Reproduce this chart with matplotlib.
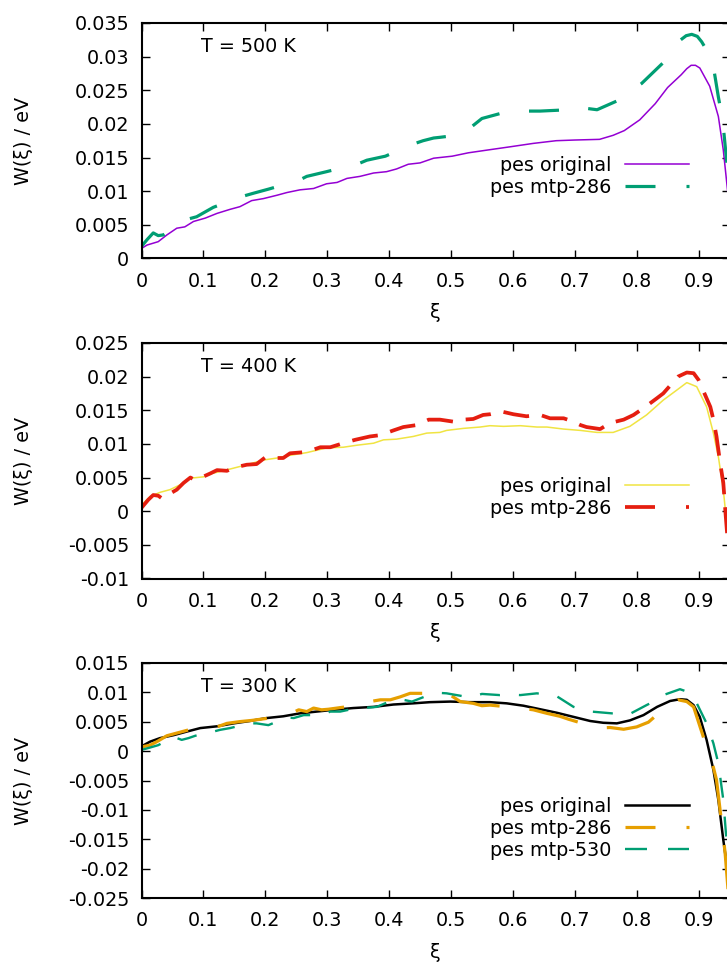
import matplotlib
matplotlib.use("Agg")
import matplotlib.pyplot as plt
from matplotlib.lines import Line2D
from matplotlib.ticker import MultipleLocator, FuncFormatter

plt.rcParams["font.family"] = ["DejaVu Sans"]
plt.rcParams["font.size"] = 13.8
plt.rcParams["lines.scale_dashes"] = False

# ---- T = 500 K ----
xi_500_orig = [0.0, 0.009, 0.027, 0.041, 0.057, 0.070, 0.084, 0.103, 0.122, 0.143, 0.159, 0.178,
               0.197, 0.219, 0.235, 0.256, 0.278, 0.299, 0.316, 0.332, 0.353, 0.375, 0.396, 0.412,
               0.431, 0.450, 0.472, 0.502, 0.528, 0.558, 0.596, 0.633, 0.670, 0.700, 0.740, 0.762,
               0.780, 0.805, 0.830, 0.850, 0.872, 0.881, 0.888, 0.895, 0.902, 0.918, 0.932, 0.940,
               0.947]
w_500_orig = [0.0015, 0.0020, 0.0025, 0.0035, 0.0045, 0.0047, 0.0055, 0.0060, 0.0067, 0.0073, 0.0077,
              0.0086, 0.0089, 0.0094, 0.0098, 0.0102, 0.0104, 0.0111, 0.0113, 0.0119, 0.0122, 0.0127,
              0.0129, 0.0133, 0.0140, 0.0142, 0.0149, 0.0152, 0.0157, 0.0161, 0.0166, 0.0171, 0.0175,
              0.0176, 0.0177, 0.0183, 0.0190, 0.0206, 0.0230, 0.0254, 0.0273, 0.0282, 0.0287, 0.0287,
              0.0283, 0.0256, 0.0211, 0.0161, 0.0100]
xi_500_m286 = [0.0, 0.009, 0.019, 0.027, 0.035, 0.073, 0.089, 0.116, 0.162, 0.181, 0.205, 0.254,
               0.267, 0.299, 0.351, 0.364, 0.394, 0.439, 0.455, 0.472, 0.482, 0.517, 0.531, 0.550,
               0.598, 0.622, 0.644, 0.690, 0.709, 0.719, 0.736, 0.773, 0.789, 0.808, 0.843, 0.857,
               0.870, 0.880, 0.889, 0.898, 0.905, 0.916, 0.924, 0.932, 0.939, 0.947]
w_500_m286 = [0.0018, 0.0028, 0.0038, 0.0034, 0.0035, 0.0058, 0.0062, 0.0076, 0.0092, 0.0097, 0.0103,
              0.0116, 0.0122, 0.0129, 0.0141, 0.0146, 0.0152, 0.0170, 0.0175, 0.0179, 0.0180, 0.0184,
              0.0194, 0.0208, 0.0220, 0.0219, 0.0219, 0.0221, 0.0226, 0.0223, 0.0221, 0.0236, 0.0248,
              0.0260, 0.0291, 0.0307, 0.0324, 0.0331, 0.0333, 0.0330, 0.0322, 0.0305, 0.0285, 0.0240,
              0.0205, 0.0130]

# ---- T = 400 K ----
xi_400_orig = [0.0, 0.014, 0.030, 0.046, 0.062, 0.079, 0.100, 0.114, 0.132, 0.149, 0.170, 0.197,
               0.219, 0.240, 0.267, 0.299, 0.326, 0.348, 0.375, 0.391, 0.412, 0.439, 0.461, 0.482,
               0.493, 0.520, 0.547, 0.563, 0.585, 0.612, 0.639, 0.655, 0.682, 0.709, 0.736, 0.762,
               0.789, 0.816, 0.843, 0.865, 0.881, 0.897, 0.913, 0.924, 0.932, 0.940, 0.946]
w_400_orig = [0.0009, 0.0022, 0.0028, 0.0032, 0.0039, 0.0049, 0.0051, 0.0056, 0.0060, 0.0064, 0.0069,
              0.0076, 0.0079, 0.0083, 0.0087, 0.0094, 0.0095, 0.0098, 0.0101, 0.0106, 0.0107, 0.0111,
              0.0116, 0.0117, 0.0120, 0.0123, 0.0125, 0.0127, 0.0126, 0.0127, 0.0125, 0.0125, 0.0122,
              0.0120, 0.0117, 0.0117, 0.0126, 0.0143, 0.0165, 0.0180, 0.0191, 0.0185, 0.0155, 0.0116,
              0.0081, 0.0032, -0.0023]
xi_400_m286 = [0.0, 0.011, 0.019, 0.027, 0.033, 0.057, 0.068, 0.079, 0.087, 0.111, 0.122, 0.138,
               0.151, 0.170, 0.186, 0.200, 0.208, 0.229, 0.240, 0.267, 0.289, 0.305, 0.326, 0.345,
               0.369, 0.386, 0.407, 0.423, 0.445, 0.464, 0.482, 0.504, 0.520, 0.536, 0.552, 0.563,
               0.582, 0.601, 0.622, 0.644, 0.660, 0.682, 0.698, 0.709, 0.719, 0.741, 0.757, 0.779,
               0.795, 0.814, 0.833, 0.843, 0.867, 0.881, 0.892, 0.900, 0.919, 0.924, 0.929, 0.935,
               0.940, 0.944, 0.947]
w_400_m286 = [0.0005, 0.0017, 0.0024, 0.0023, 0.0019, 0.0032, 0.0042, 0.0050, 0.0046, 0.0056, 0.0061,
              0.0060, 0.0065, 0.0069, 0.0070, 0.0080, 0.0079, 0.0079, 0.0086, 0.0088, 0.0095, 0.0095,
              0.0101, 0.0106, 0.0111, 0.0113, 0.0120, 0.0125, 0.0128, 0.0136, 0.0136, 0.0133, 0.0136,
              0.0137, 0.0143, 0.0144, 0.0148, 0.0144, 0.0141, 0.0143, 0.0138, 0.0138, 0.0133, 0.0128,
              0.0125, 0.0122, 0.0131, 0.0136, 0.0143, 0.0155, 0.0168, 0.0175, 0.0200, 0.0206, 0.0205,
              0.0195, 0.0155, 0.0136, 0.0111, 0.0071, 0.0042, -0.0008, -0.0043]

# ---- T = 300 K ----
xi_300_orig = [0.0, 0.014, 0.030, 0.052, 0.073, 0.095, 0.122, 0.149, 0.175, 0.202, 0.229, 0.256,
               0.283, 0.310, 0.342, 0.375, 0.407, 0.439, 0.466, 0.499, 0.531, 0.563, 0.590, 0.617,
               0.644, 0.671, 0.698, 0.725, 0.746, 0.768, 0.789, 0.811, 0.833, 0.854, 0.870, 0.881,
               0.892, 0.902, 0.913, 0.924, 0.932, 0.940, 0.946]
w_300_orig = [0.0008, 0.0016, 0.0022, 0.0027, 0.0033, 0.0039, 0.0042, 0.0047, 0.0051, 0.0056, 0.0059,
              0.0064, 0.0067, 0.0070, 0.0073, 0.0075, 0.0079, 0.0081, 0.0083, 0.0084, 0.0083, 0.0083,
              0.0081, 0.0077, 0.0071, 0.0065, 0.0058, 0.0051, 0.0048, 0.0047, 0.0052, 0.0061, 0.0075,
              0.0085, 0.0088, 0.0087, 0.0078, 0.0058, 0.0019, -0.0032, -0.0083, -0.0151, -0.0196]
xi_300_m286 = [0.0, 0.014, 0.025, 0.041, 0.087, 0.106, 0.122, 0.138, 0.159, 0.178, 0.221, 0.240,
               0.254, 0.267, 0.278, 0.291, 0.302, 0.351, 0.369, 0.386, 0.402, 0.418, 0.434, 0.482,
               0.499, 0.515, 0.536, 0.550, 0.563, 0.612, 0.633, 0.655, 0.676, 0.690, 0.738, 0.757,
               0.779, 0.800, 0.819, 0.854, 0.867, 0.881, 0.892, 0.913, 0.921, 0.929, 0.940, 0.943,
               0.948]
w_300_m286 = [0.0007, 0.0010, 0.0016, 0.0026, 0.0039, 0.0041, 0.0041, 0.0047, 0.0050, 0.0052, 0.0058,
              0.0063, 0.0070, 0.0067, 0.0073, 0.0070, 0.0071, 0.0078, 0.0084, 0.0087, 0.0087, 0.0092,
              0.0098, 0.0098, 0.0095, 0.0084, 0.0081, 0.0077, 0.0078, 0.0073, 0.0070, 0.0064, 0.0059,
              0.0054, 0.0039, 0.0040, 0.0037, 0.0041, 0.0049, 0.0081, 0.0087, 0.0084, 0.0075, 0.0007,
              -0.0015, -0.0049, -0.0146, -0.0174, -0.0240]
xi_300_m530 = [0.0, 0.014, 0.027, 0.052, 0.065, 0.076, 0.087, 0.116, 0.127, 0.143, 0.175, 0.186,
               0.205, 0.235, 0.246, 0.262, 0.291, 0.305, 0.321, 0.348, 0.369, 0.380, 0.407, 0.423,
               0.437, 0.464, 0.477, 0.493, 0.520, 0.531, 0.550, 0.579, 0.596, 0.612, 0.639, 0.655,
               0.671, 0.698, 0.714, 0.727, 0.760, 0.776, 0.789, 0.816, 0.833, 0.843, 0.870, 0.881,
               0.892, 0.913, 0.924, 0.932, 0.940, 0.946]
w_300_m530 = [0.0002, 0.0006, 0.0010, 0.0024, 0.0019, 0.0022, 0.0026, 0.0033, 0.0036, 0.0039, 0.0047,
              0.0047, 0.0044, 0.0057, 0.0056, 0.0061, 0.0061, 0.0067, 0.0067, 0.0073, 0.0074, 0.0075,
              0.0087, 0.0087, 0.0084, 0.0095, 0.0099, 0.0098, 0.0093, 0.0091, 0.0097, 0.0095, 0.0096,
              0.0095, 0.0098, 0.0095, 0.0093, 0.0075, 0.0070, 0.0067, 0.0064, 0.0065, 0.0063, 0.0078,
              0.0087, 0.0095, 0.0105, 0.0101, 0.0092, 0.0047, 0.0013, -0.0021, -0.0083, -0.0163]

PURPLE = "#9400d3"; GREEN = "#009e73"; YELLOW = "#f0e442"; RED = "#e51e10"; ORANGE = "#e69f00"
PX = 72 / 100  # points per pixel at dpi 100
LEG_DASH = (30 * PX, 31 * PX)

fig = plt.figure(figsize=(7.27, 9.63), dpi=100)
L, W, H = 141.5 / 727, 588 / 727, 235.6 / 963

panels = [
    # title, ylim, bottom(px from top), legend centre y, curves
    ("T = 500 K", (0, 0.035), 258.5, 0.349, [
        (xi_500_orig, w_500_orig, "pes original", PURPLE, 1.1, None, None),
        (xi_500_m286, w_500_m286, "pes mtp-286", GREEN, 2.3, (30 * PX, 30 * PX), LEG_DASH)]),
    ("T = 400 K", (-0.01, 0.025), 578.5, 0.345, [
        (xi_400_orig, w_400_orig, "pes original", YELLOW, 1.1, None, None),
        (xi_400_m286, w_400_m286, "pes mtp-286", RED, 2.7, (26 * PX, 13 * PX), LEG_DASH)]),
    ("T = 300 K", (-0.025, 0.015), 898.3, 0.297, [
        (xi_300_orig, w_300_orig, "pes original", "black", 1.8, None, None),
        (xi_300_m286, w_300_m286, "pes mtp-286", ORANGE, 2.3, (50 * PX, 30 * PX), LEG_DASH),
        (xi_300_m530, w_300_m530, "pes mtp-530", GREEN, 1.7, (20 * PX, 19 * PX), (22 * PX, 21 * PX))]),
]


def gfmt(v, pos):
    v = round(v, 6)
    return "0" if abs(v) < 1e-9 else "%g" % v


fmt = FuncFormatter(gfmt)

for title, ylim, bot, leg_y, curves in panels:
    ax = fig.add_axes([L, (963 - bot) / 963, W, H])
    handles = []
    for x, y, lab, col, lw, dash, ldash in curves:
        if dash is None:
            ln, = ax.plot(x, y, color=col, lw=lw)
            handles.append(ln)
        else:
            ax.plot(x, y, color=col, lw=lw, dashes=dash)
            handles.append(Line2D([], [], color=col, lw=lw, dashes=ldash))
    ax.set_xlim(0, 0.95)
    ax.set_ylim(*ylim)
    ax.xaxis.set_major_locator(MultipleLocator(0.1))
    ax.yaxis.set_major_locator(MultipleLocator(0.005))
    ax.xaxis.set_major_formatter(fmt)
    ax.yaxis.set_major_formatter(fmt)
    ax.tick_params(direction="in", top=True, right=True, length=5.8, width=1.0, labelsize=13.8)
    ax.tick_params(axis="y", pad=9)
    ax.tick_params(axis="x", pad=9.5)
    for s in ax.spines.values():
        s.set_linewidth(1.5)
    ax.set_xlabel("ξ", labelpad=9)
    ax.set_ylabel("W(ξ) / eV")
    ax.yaxis.set_label_coords(-0.185, 0.5)
    ax.text(0.101, 0.899, title, transform=ax.transAxes, ha="left", va="center")
    ax.legend(handles, [c[2] for c in curves], loc="center right", bbox_to_anchor=(0.9313, leg_y),
              frameon=False, markerfirst=False, borderpad=0, borderaxespad=0,
              handlelength=3.33, handletextpad=0.73, labelspacing=0.15, fontsize=13.8)

fig.savefig("out.png", dpi=100)
